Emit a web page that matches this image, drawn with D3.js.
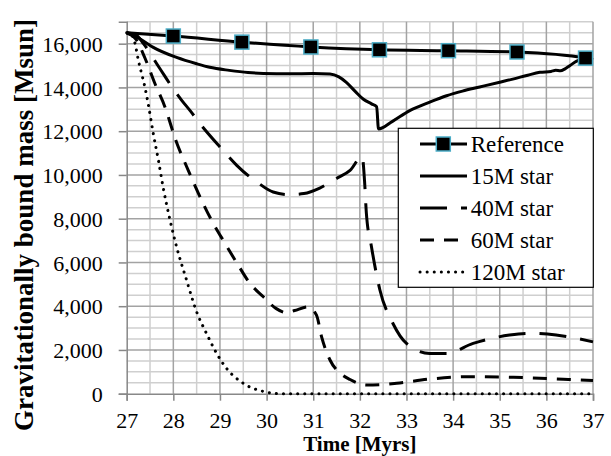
<!DOCTYPE html>
<html><head><meta charset="utf-8">
<script src="https://cdn.jsdelivr.net/npm/d3@7"></script>
<style>body{margin:0;background:#fff;} svg{display:block;}</style>
</head><body>
<svg id="chart" width="611" height="456"></svg>
<script>
// ---- data ----
const xTicks = [27,28,29,30,31,32,33,34,35,36,37];
const yTicks = [0,2000,4000,6000,8000,10000,12000,14000,16000];
const seriesNames = ["Reference","15M star","40M star","60M star","120M star"];

const refT = [27,28,29.47,30.95,32.42,33.9,35.37,36.84,37];
const refM = [16500,16350,16070,15850,15720,15680,15620,15340,15270];
const refMarked = [false,true,true,true,true,true,true,true,false];

const m15T = [27,27.3,27.57,28.07,28.5,28.78,29.2,29.6,29.93,30.5,31,31.36,31.55,31.71,31.9,32.07,32.25,32.36,32.4,32.7,33.07,33.5,33.86,34.2,34.57,35,35.28,35.6,35.86,36.1,36.2,36.3,36.4,36.5,36.65,36.8,37];
const m15M = [16500,16200,15830,15370,15080,14920,14780,14680,14640,14620,14640,14610,14480,14230,13820,13470,13250,13120,12100,12450,12940,13330,13620,13830,14020,14240,14380,14560,14690,14730,14780,14760,14850,14990,15200,15300,15250];

const m40T = [27,27.2,27.36,27.7,28,28.18,28.36,28.57,29,29.36,29.64,29.79,30.14,30.5,30.8,31.14,31.5,31.79,32.05,32.1,32.14,32.25,32.43,32.71,33,33.5,33.86,34.43,35.21,35.64,36.21,37];
const m40M = [16500,16400,16000,14900,13930,13410,12940,12350,11280,10440,9910,9680,9220,9100,9150,9400,9840,10210,10850,9750,8240,6710,4740,3210,2300,1840,1840,2300,2680,2760,2680,2370];

const m60T = [27,27.2,27.4,27.6,27.82,28.05,28.32,28.55,28.8,29.1,29.39,29.64,29.93,30.2,30.43,30.6,30.89,31.07,31.18,31.36,31.6,31.79,32.14,32.5,32.79,33.5,34.43,35.29,36.36,37];
const m60M = [16500,16200,15300,14200,13110,11600,10210,9100,8010,6900,5880,5050,4430,3900,3700,3800,3970,3590,2600,1540,900,650,400,420,475,670,780,750,660,600];

const m120T = [27,27.1,27.18,27.25,27.32,27.39,27.46,27.57,27.68,27.78,27.93,28.07,28.29,28.5,28.71,28.93,29.14,29.5,29.96,30.3,31,32,33,34,35,36,37];
const m120M = [16500,16400,16000,15240,14630,14020,13260,11890,10670,9450,7930,6710,5150,3740,2760,1840,1160,475,90,0,0,0,0,0,0,0,0];

// ---- layout ----
const FONT = "'Liberation Serif', Tinos, 'Noto Serif', 'DejaVu Serif', FreeSerif, Times, serif";
const svg = d3.select("#chart");
const L = 126.7, R = 593, T = 21.8, B = 393.7;
const x = d3.scaleLinear().domain([27,37]).range([L,R]);
const y = d3.scaleLinear().domain([0,17000]).range([B,T]);

// gridlines
const g = svg.append("g");
const vMinor = d3.range(27.5,37,1);
const hMinor = d3.range(500,17001,500).filter(v=>v%2000!==0);
g.selectAll(".vmin").data(vMinor).enter().append("line")
  .attr("x1",d=>x(d)).attr("x2",d=>x(d)).attr("y1",T).attr("y2",B)
  .attr("stroke","#cfcfcf").attr("stroke-width",1.5);
g.selectAll(".hmin").data(hMinor).enter().append("line")
  .attr("x1",L).attr("x2",R).attr("y1",d=>y(d)).attr("y2",d=>y(d))
  .attr("stroke","#cfcfcf").attr("stroke-width",1.5);
g.selectAll(".vmaj").data(xTicks.slice(1)).enter().append("line")
  .attr("x1",d=>x(d)).attr("x2",d=>x(d)).attr("y1",T).attr("y2",B)
  .attr("stroke","#a3a3a3").attr("stroke-width",1.5);
g.selectAll(".hmaj").data(yTicks.slice(1)).enter().append("line")
  .attr("x1",L).attr("x2",R).attr("y1",d=>y(d)).attr("y2",d=>y(d))
  .attr("stroke","#a3a3a3").attr("stroke-width",1.5);

// axes
const yAxis = svg.append("g").attr("transform",`translate(${L},0)`)
  .call(d3.axisLeft(y).tickValues(yTicks).tickFormat(d3.format(",")).tickSize(8).tickPadding(16));
const xAxis = svg.append("g").attr("transform",`translate(0,${B})`)
  .call(d3.axisBottom(x).tickValues(xTicks).tickFormat(d3.format("d")).tickSize(7));
[yAxis,xAxis].forEach(a=>{
  a.attr("font-family",null).attr("font-size",null);
  a.select(".domain").attr("stroke","#888").attr("stroke-width",1.5);
  a.selectAll(".tick line").attr("stroke","#888").attr("stroke-width",1.5);
  a.selectAll("text").attr("fill","#000").style("font-family",FONT).style("font-size","22px");
});
yAxis.selectAll("text").attr("dy","0.35em");
xAxis.selectAll("text").attr("y",34).attr("dy","0");

// series
const line = d3.line().x(d=>x(d[0])).y(d=>y(d[1])).curve(d3.curveMonotoneX);
const zip = (a,b)=>a.map((v,i)=>[v,b[i]]);
const styles = [
  {data:zip(m120T,m120M), dash:"0.1,7", cap:"round"},
  {data:zip(m60T,m60M), dash:"14,10", cap:"butt"},
  {data:zip(m40T,m40M), dash:"27,14", cap:"butt"},
  {data:zip(m15T,m15M), dash:null, cap:"butt"},
  {data:zip(refT,refM), dash:null, cap:"butt"}
];
styles.forEach(s=>{
  svg.append("path").attr("d",line(s.data)).attr("fill","none").attr("stroke","#000")
    .attr("stroke-width",3).attr("stroke-dasharray",s.dash).attr("stroke-linecap",s.cap)
    .attr("stroke-linejoin","round");
});
const ms = 14;
svg.selectAll(".mk").data(zip(refT,refM).filter((d,i)=>refMarked[i])).enter().append("rect")
  .attr("x",d=>x(d[0])-ms/2).attr("y",d=>y(d[1])-ms/2).attr("width",ms).attr("height",ms)
  .attr("fill","#000").attr("stroke","#4bacc6").attr("stroke-width",1.5);

// titles
svg.append("text").attr("transform","translate(33,225) rotate(-90)").attr("text-anchor","middle")
  .style("font-family",FONT).style("font-weight","bold").style("font-size","27px").text("Gravitationally bound mass  [Msun]");
svg.append("text").attr("x",(L+R)/2).attr("y",450.5).attr("text-anchor","middle")
  .style("font-family",FONT).style("font-weight","bold").style("font-size","21px").text("Time [Myrs]");

// legend
const lg = svg.append("g");
lg.append("rect").attr("x",398.3).attr("y",128.3).attr("width",195).attr("height",159)
  .attr("fill","#fff").attr("stroke","#000").attr("stroke-width",1.2);
const legendDash = [null,null,"27,14","14,10","0.1,7"];
const legendCap = ["butt","butt","butt","butt","round"];
seriesNames.forEach((n,i)=>{
  const cy = 144 + i*32;
  lg.append("line").attr("x1",420).attr("x2",467).attr("y1",cy).attr("y2",cy)
    .attr("stroke","#000").attr("stroke-width",3).attr("stroke-dasharray",legendDash[i]).attr("stroke-linecap",legendCap[i]);
  if(i===0){
    lg.append("rect").attr("x",443.3-ms/2).attr("y",cy-ms/2).attr("width",ms).attr("height",ms)
      .attr("fill","#000").attr("stroke","#4bacc6").attr("stroke-width",1.5);
  }
  lg.append("text").attr("x",470.7).attr("y",cy+8).style("font-family",FONT).style("font-size","23px").text(n);
});
</script>
</body></html>
